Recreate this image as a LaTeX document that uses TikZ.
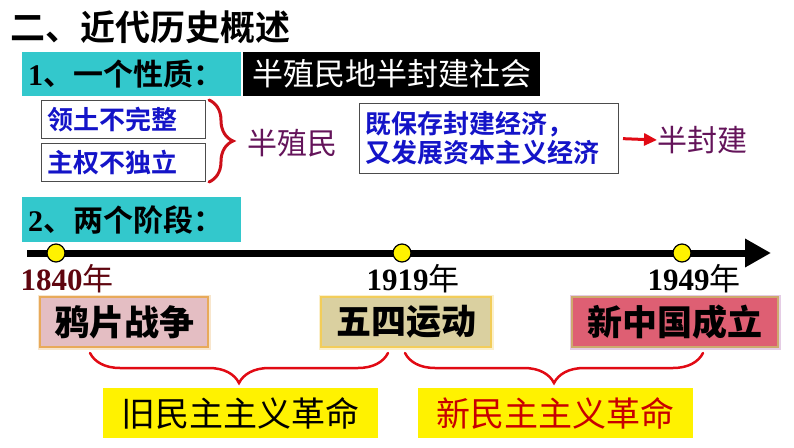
\documentclass[tikz,border=0pt]{standalone}
\usepackage{fontspec}
\setmainfont{Noto Sans CJK SC}[BoldFont={Noto Sans CJK SC Bold}]
\newfontfamily\tnr{Liberation Serif}
\newfontfamily\heavy{Noto Sans CJK SC Black}
\usetikzlibrary{arrows.meta,positioning,decorations.pathreplacing}
\definecolor{barteal}{RGB}{51,200,204}
\definecolor{factblue}{RGB}{20,20,200}
\definecolor{resultpurple}{RGB}{100,20,90}
\definecolor{bracered}{RGB}{205,15,25}
\definecolor{linered}{RGB}{225,10,20}
\definecolor{yearred}{RGB}{95,5,15}
\definecolor{opiumfill}{RGB}{228,190,195}
\definecolor{opiumline}{RGB}{232,170,90}
\definecolor{mayfill}{RGB}{218,208,160}
\definecolor{mayline}{RGB}{242,205,90}
\definecolor{prcfill}{RGB}{222,95,115}
\definecolor{prcline}{RGB}{205,170,110}
\definecolor{stagered}{RGB}{200,0,0}
\newcommand{\setsize}[1]{\fontsize{#1}{#1}\selectfont}
\tikzset{
  headbar/.style={
    rectangle,
    fill=barteal,
    anchor=north west,
    minimum width=219pt,
    minimum height=44pt,
    text width=207pt,
    inner xsep=6pt,
    align=left,
    font=\setsize{30}\bfseries
  },
  notebar/.style={
    rectangle,
    fill=black,
    text=white,
    anchor=north west,
    minimum width=297pt,
    minimum height=44pt,
    font=\setsize{31}
  },
  factbox/.style={
    rectangle,
    draw=black!70,
    line width=1pt,
    fill=white,
    text=factblue,
    anchor=north west,
    align=left,
    inner xsep=6pt,
    font=\setsize{26}\bfseries
  },
  resulttext/.style={text=resultpurple, font=\setsize{30}, inner sep=0pt, anchor=west},
  yeartext/.style={font=\setsize{31}, inner sep=0pt},
  yeardot/.style={circle, draw=black, line width=1.2pt, fill=yellow, minimum size=18pt, inner sep=0pt},
  eventbox/.style={
    rectangle,
    line width=1.5pt,
    minimum height=50pt,
    font=\setsize{35}\heavy
  },
  stagebox/.style={rectangle, fill=yellow, minimum width=275pt, minimum height=50pt, font=\setsize{34}},
  redbrace/.style={decorate, decoration={brace, amplitude=#1}, line width=2.5pt, line cap=round},
  timeline/.style={line width=7pt, -{Triangle[length=26pt,width=27pt]}}
}
\begin{document}
\begin{tikzpicture}[x=1pt,y=-1pt]
  \useasboundingbox (0,0) rectangle (794,447);
  % heading and nature of the period
  \node[anchor=west, inner sep=0pt, font=\setsize{35}\bfseries] (title) at (10,27) {二、近代历史概述};
  \node[headbar] (nature) at (22,52) {{\tnr 1}、一个性质：};
  \node[notebar] (naturetext) at (243,52) {半殖民地半封建社会};
  \node[factbox, minimum width=164pt, minimum height=38pt, text width=152pt] (land) at (41,100) {领土不完整};
  \node[factbox, minimum width=164pt, minimum height=38pt, text width=152pt, below=4pt of land.south west, anchor=north west] (rule) {主权不独立};
  \node[resulttext] (semicol) at (247,143) {半殖民};
  \node[factbox, minimum width=259pt, minimum height=70pt, text width=247pt] (econ) at (359,103)
    {既保存封建经济，\\[3pt]又发展资本主义经济};
  \node[resulttext] (semifeud) at (657,140) {半封建};
  \draw[redbrace=24pt, color=bracered, line width=3pt] ([xshift=3pt]land.north east) -- ([xshift=3pt]rule.south east);
  \draw[-{Triangle[length=13pt,width=12pt]}, line width=3pt, color=linered, shorten <=4pt] (econ.east) -- (semifeud.west);

  % two stages
  \node[headbar, minimum height=45pt] (stages) at (22,197) {{\tnr 2}、两个阶段：};
  \coordinate (tstart) at (27,253);
  \coordinate (tend) at (771,253);
  \draw[timeline] (tstart) -- (tend);
  \node[yeardot] (d1840) at (56,253) {};
  \node[yeardot] (d1919) at (402,253) {};
  \node[yeardot] (d1949) at (682,253) {};
  \node[yeartext, text=yearred] (y1840) at (67,279) {{\tnr\bfseries 1840}年};
  \node[yeartext] (y1919) at (413,279) {{\tnr\bfseries 1919}年};
  \node[yeartext] (y1949) at (694,279) {{\tnr\bfseries 1949}年};
  \node[eventbox, fill=opiumfill, draw=opiumline, minimum width=168pt,
    preaction={draw=opiumline!30, line width=5pt}] (opium) at (124,322) {鸦片战争};
  \node[eventbox, fill=mayfill, draw=mayline, minimum width=170pt,
    preaction={draw=mayline!30, line width=5pt}] (may4) at (406,322) {五四运动};
  \node[eventbox, fill=prcfill, draw=prcline, minimum width=206pt,
    preaction={draw=violet!20, line width=5pt}] (prc) at (675,322) {新中国成立};

  % revolutions
  \coordinate (oldL) at (90,353);
  \coordinate (oldR) at (388,353);
  \coordinate (newL) at (405,353);
  \coordinate (newR) at (703,353);
  \draw[redbrace=30pt, decoration={mirror}, color=linered] (oldL) -- (oldR);
  \draw[redbrace=30pt, decoration={mirror}, color=linered] (newL) -- (newR);
  \node[stagebox] (oldrev) at (240,413) {旧民主主义革命};
  \node[stagebox, text=stagered] (newrev) at (555,413) {新民主主义革命};
\end{tikzpicture}
\end{document}
